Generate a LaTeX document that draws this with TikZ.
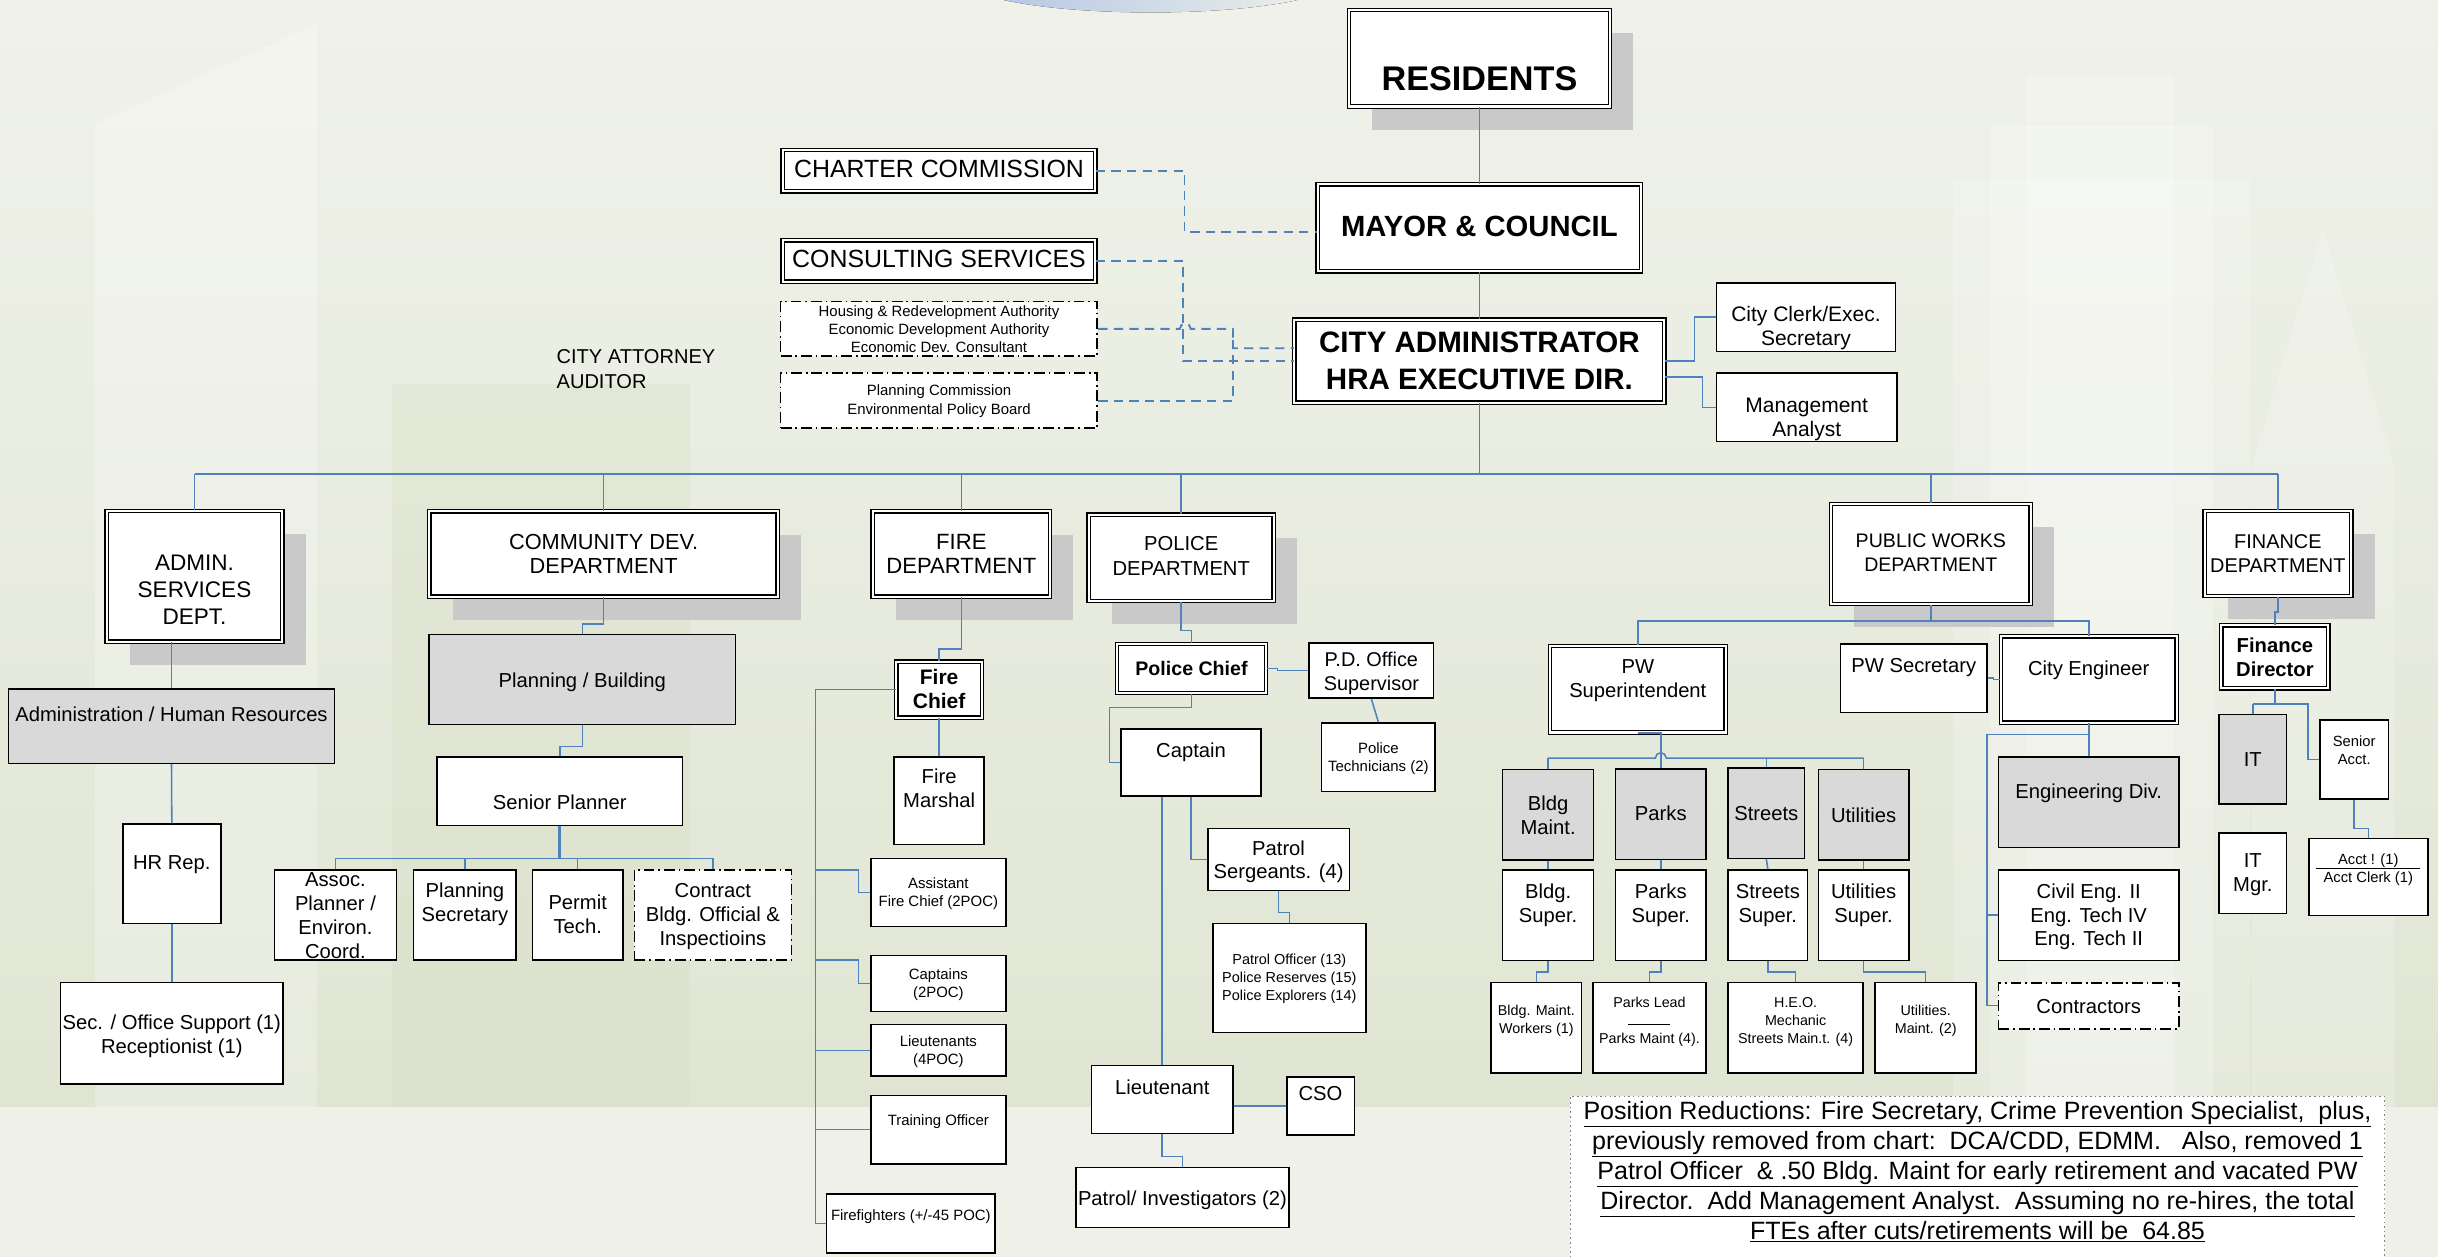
\documentclass[tikz,border=0pt]{standalone}
\usepackage{fontspec}
\setmainfont{Liberation Sans}
\usetikzlibrary{shadows}
\definecolor{bgtop}{RGB}{240,242,234}
\definecolor{bgmid}{RGB}{224,229,211}
\definecolor{bglow}{RGB}{239,241,232}
\definecolor{bgdark}{RGB}{214,222,196}
\definecolor{shadowgray}{RGB}{201,201,201}
\definecolor{boxgray}{RGB}{217,217,217}
\definecolor{linkblue}{RGB}{79,129,189}
\newcommand{\fs}[2]{\fontsize{#1}{#2}\selectfont}
\newcommand{\tx}[2]{\raisebox{\dimexpr-#1pt-0.37em\relax}[0pt][0pt]{\makebox[0pt]{\begin{tabular}{@{}c@{}}#2\end{tabular}}}}
\tikzset{
  sz/.style 2 args={minimum width=#1pt, minimum height=#2pt},
  box/.style={draw, fill=white, line width=1pt, inner sep=0pt, font=\fs{13}{15.4}},
  grey/.style={box, fill=boxgray},
  dbl/.style={box, double, double distance=1.3pt, line width=0.85pt},
  dept/.style={dbl, drop shadow={shadow xshift=15pt, shadow yshift=-15pt, fill=shadowgray, opacity=1}},
  dashdot/.style={box, line width=1.1pt, dash pattern=on 7pt off 2.5pt on 1pt off 2.5pt},
  small/.style={font=\fs{9.6}{11.3}},
  link/.style={draw=linkblue, line width=1pt},
  dlink/.style={draw=linkblue, line width=1.2pt, dash pattern=on 6pt off 4pt}
}
\begin{document}
\begin{tikzpicture}[x=1pt, y=-1pt]
\useasboundingbox (0,0) rectangle (1568,808.4);
\clip (0,0) rectangle (1568,808.4);
\fill [top color=bgtop, bottom color=bgmid] (0,0) rectangle (1568,712);
\fill [bglow] (0,712) rectangle (1568,808.4);
\fill [white, opacity=.25] (61,80) -- (204,15) -- (204,712) -- (61,712) -- cycle;
\fill [bgdark, opacity=.35] (252,247) rectangle (444,712);
\fill [white, opacity=.2] (1303,48) rectangle (1398,712);
\fill [white, opacity=.2] (1280,81) rectangle (1423,712);
\fill [white, opacity=.2] (1256,115) rectangle (1447,712);
\fill [white, opacity=.2] (1494,148) -- (1540,300) -- (1540,712) -- (1448,712) -- (1448,300) -- cycle;
\fill [left color={rgb,255:red,176;green,196;blue,228}, right color=bgtop] (740,-12) ellipse [x radius=118, y radius=20];

\node (res) at (951.5,37.5) [dept, sz={168}{62}, font=\bfseries\fs{22}{26}] {\tx{12.5}{RESIDENTS}};
\node (mayor) at (951.5,146.5) [dbl, sz={208}{56}, font=\bfseries\fs{18.8}{22}] {\tx{-1.5}{MAYOR \& COUNCIL}};
\node (cadm) at (951.5,232.3) [dbl, sz={238}{53.5}, font=\bfseries\fs{19}{23.8}] {\tx{-1.4}{CITY ADMINISTRATOR\\HRA EXECUTIVE DIR.}};
\node (charter) at (603.9,109.7) [dbl, sz={201}{26.5}, font=\fs{16}{18}] {\tx{-0.9}{CHARTER COMMISSION}};
\node (consult) at (603.9,167.9) [dbl, sz={201}{26.5}, font=\fs{16}{18}] {\tx{-1.2}{CONSULTING SERVICES}};
\node (hra) at (603.9,211.5) [dashdot, sz={203.7}{35}, font=\fs{9.6}{11.6}] {\tx{0}{Housing \& Redevelopment Authority\\Economic Development Authority\\Economic Dev. Consultant}};
\node (plancom) at (603.9,257.7) [dashdot, sz={203.7}{35.4}, font=\fs{9.6}{11.8}] {\tx{-0.6}{Planning Commission\\Environmental Policy Board}};
\node (attny) at (357.8,237.4) [anchor=west, align=left, inner sep=0pt, font=\fs{12.9}{15.5}] {CITY ATTORNEY\\AUDITOR};
\node (clerk) at (1161.5,204) [box, sz={115}{44}, font=\fs{13.5}{15.5}] {\tx{6}{City Clerk/Exec.\\Secretary}};
\node (mgmt) at (1162,262) [box, sz={116}{44}, font=\fs{13.5}{15.5}] {\tx{6.5}{Management\\Analyst}};

\node (dadm) at (125.1,370.6) [dept, sz={113}{84}, font=\fs{14.5}{17.2}] {\tx{8.5}{ADMIN.\\SERVICES\\DEPT.}};
\node (dcom) at (388.2,356.3) [dept, sz={224}{55}, font=\fs{14}{15.5}] {\tx{0}{COMMUNITY DEV.\\DEPARTMENT}};
\node (dfire) at (618.3,356.3) [dept, sz={114}{55}, font=\fs{14.2}{15.5}] {\tx{0}{FIRE\\DEPARTMENT}};
\node (dpol) at (759.7,358.8) [dept, sz={119}{55.4}, font=\fs{13}{16}] {\tx{-1.8}{POLICE\\DEPARTMENT}};
\node (dpw) at (1241.8,356.3) [dept, sz={128.5}{64.4}, font=\fs{12.6}{15.5}] {\tx{-1.3}{PUBLIC WORKS\\DEPARTMENT}};
\node (dfin) at (1465,356) [dept, sz={94.3}{54.7}, font=\fs{12.8}{15.3}] {\tx{-0.4}{FINANCE\\DEPARTMENT}};

\node (ahr) at (110.3,467) [grey, sz={209.4}{48}] {\tx{-7.8}{Administration / Human Resources}};
\node (hrrep) at (110.5,562) [box, sz={63}{64}] {\tx{-7.4}{HR Rep.}};
\node (secoff) at (110.5,664.5) [box, sz={143}{65}] {\tx{0.4}{Sec. / Office Support (1)\\Receptionist (1)}};

\node (plbld) at (374.5,437) [grey, sz={197}{58}] {\tx{0}{Planning / Building}};
\node (srpl) at (360,509) [box, sz={158}{44}] {\tx{6.7}{Senior Planner}};
\node (assoc) at (215.75,588.55) [box, sz={78.5}{57.9}] {\tx{0}{Assoc.\\Planner /\\Environ.\\Coord.}};
\node (plsec) at (299,588.55) [box, sz={66}{57.9}] {\tx{-8.2}{Planning\\Secretary}};
\node (permit) at (371.55,588.55) [box, sz={58.1}{57.9}] {\tx{-0.5}{Permit\\Tech.}};
\node (contract) at (458.5,588.55) [dashdot, sz={101}{57.9}] {\tx{-0.5}{Contract\\Bldg. Official \&\\Inspectioins}};

\node (fchief) at (604,443.5) [dbl, sz={55}{36}, font=\bfseries\fs{13.5}{15.3}] {\tx{0}{Fire\\Chief}};
\node (fmarsh) at (604,515) [box, sz={58}{56}] {\tx{-8}{Fire\\Marshal}};
\node (asst) at (603.5,574) [box, small, sz={87}{44}] {\tx{0}{Assistant\\Fire Chief (2POC)}};
\node (capts) at (603.5,632.5) [box, small, sz={87}{36}] {\tx{0}{Captains\\(2POC)}};
\node (lts) at (603.5,675.5) [box, small, sz={87}{33}] {\tx{0}{Lieutenants\\(4POC)}};
\node (train) at (603.5,726.55) [box, small, sz={87}{43.9}] {\tx{-6.2}{Training Officer}};
\node (ffight) at (585.8,786.9) [box, small, sz={108.4}{38.2}] {\tx{-5.5}{Firefighters (+/-45 POC)}};

\node (pchief) at (766.3,429.95) [dbl, sz={96}{31.7}, font=\bfseries\fs{12.6}{15}] {\tx{0}{Police Chief}};
\node (pdoff) at (882,431.35) [box, sz={80}{35.3}, font=\fs{12.8}{15.3}] {\tx{0}{P.D. Office\\Supervisor}};
\node (ptech) at (886.5,487) [box, small, sz={73}{44}] {\tx{0}{Police\\Technicians (2)}};
\node (capt) at (766,490.5) [box, sz={90}{43}] {\tx{-8}{Captain}};
\node (psgt) at (822.3,552.7) [box, sz={91}{39.8}] {\tx{0}{Patrol\\Sergeants. (4)}};
\node (pofc) at (829.2,629) [box, sz={98.4}{70}, font=\fs{9.3}{11.6}] {\tx{-0.7}{Patrol Officer (13)\\Police Reserves (15)\\Police Explorers (14)}};
\node (lieut) at (747.5,707.2) [box, sz={91}{43.6}] {\tx{-7.9}{Lieutenant}};
\node (cso) at (849.3,711.25) [box, sz={43.4}{37.5}] {\tx{-8.2}{CSO}};
\node (pinv) at (760.5,770.15) [box, sz={137}{38.7}] {\tx{0}{Patrol/ Investigators (2)}};

\node (pwsup) at (1053.35,443.3) [dbl, sz={113}{55.6}] {\tx{-7.5}{PW\\Superintendent}};
\node (pwsec) at (1230.85,436.1) [box, sz={94.3}{44}] {\tx{-8.2}{PW Secretary}};
\node (ceng) at (1343.35,437.05) [dbl, sz={113}{55.5}] {\tx{-7.6}{City Engineer}};
\node (bmaint) at (995.65,524.1) [grey, sz={58.5}{58.2}] {\tx{0}{Bldg\\Maint.}};
\node (parks) at (1068.15,523.6) [grey, sz={58.1}{58.2}] {\tx{-0.7}{Parks}};
\node (streets) at (1136,523) [grey, sz={49.2}{58}] {\tx{0}{Streets}};
\node (utils) at (1198.55,524) [grey, sz={58.1}{58}] {\tx{0}{Utilities}};
\node (bsup) at (995.65,588.6) [box, sz={58.5}{58}] {\tx{-8.1}{Bldg.\\Super.}};
\node (psup) at (1068.15,588.6) [box, sz={58.1}{58}] {\tx{-8.1}{Parks\\Super.}};
\node (ssup) at (1137,588.6) [box, sz={51.2}{58}] {\tx{-8.1}{Streets\\Super.}};
\node (usup) at (1198.55,588.6) [box, sz={58.1}{58}] {\tx{-8.1}{Utilities\\Super.}};
\node (bwork) at (988.1,661) [box, sz={58.2}{58}, font=\fs{9.2}{11.6}] {\tx{-5.5}{Bldg. Maint.\\Workers (1)}};
\node (plead) at (1060.85,661) [box, sz={72.7}{58}, font=\fs{9.2}{11.6}] {\tx{-5.2}{Parks Lead\\\rule{27pt}{0.5pt}\\Parks Maint (4).}};
\node (heo) at (1154.85,661) [box, sz={86.9}{58}, font=\fs{9.2}{11.6}] {\tx{-5.2}{H.E.O.\\Mechanic\\Streets Main.t. (4)}};
\node (umaint) at (1238.5,661) [box, sz={65}{58}, font=\fs{9.2}{11.6}] {\tx{-5.5}{Utilities.\\Maint. (2)}};
\node (engdiv) at (1343.35,516) [grey, sz={116.1}{58}] {\tx{-7.4}{Engineering Div.}};
\node (civil) at (1343.35,588.6) [box, sz={116.1}{58}] {\tx{-0.5}{Civil Eng. II\\Eng. Tech IV\\Eng. Tech II}};
\node (contr) at (1343.35,646.8) [dashdot, sz={116.1}{29.6}] {\tx{0}{Contractors}};

\node (fdir) at (1463.1,422.45) [dbl, sz={68.8}{40.5}, font=\bfseries\fs{13}{15.3}] {\tx{0}{Finance\\Director}};
\node (it) at (1448.9,488.25) [grey, sz={43.4}{57.7}] {\tx{0}{IT}};
\node (sracct) at (1514.1,488.4) [box, sz={43.8}{50.8}, font=\fs{9.5}{11.5}] {\tx{-6}{Senior\\Acct.}};
\node (itmgr) at (1448.9,561.65) [box, sz={43.4}{51.9}, font=\fs{13}{15.8}] {\tx{-1}{IT\\Mgr.}};
\node (acct) at (1523.15,564.05) [box, sz={76.5}{49.5}, font=\fs{9.5}{11.5}] {\tx{-6}{Acct ! (1)\\[-8.3pt]\rule{67pt}{0.8pt}\\[-3pt]Acct Clerk (1)}};

\node (note) at (1271.8,760) [box, draw=gray, dotted, line width=0.8pt, sz={523.6}{110}, font=\fs{16.1}{19.3}] {\tx{-7.2}{\underline{Position Reductions: Fire Secretary, Crime Prevention Specialist,\ \ plus,}\\\underline{previously removed from chart:\ \ DCA/CDD, EDMM.\ \ \ Also, removed 1}\\\underline{Patrol Officer\ \ \& .50 Bldg. Maint for early retirement and vacated PW}\\\underline{Director.\ \ Add Management Analyst.\ \ Assuming no re-hires, the total}\\\underline{FTEs after cuts/retirements will be\ \ 64.85}}};

\draw [link] (res.south) -- (mayor.north);
\draw [link] (mayor.south) -- (cadm.north);
\coordinate (bus) at (951.5,305);
\draw [link] (cadm.south) -- (bus);
\draw [link] (bus -| dadm.north) -- (bus -| dfin.north);
\foreach \d in {dadm,dcom,dfire,dpol,dpw,dfin} \draw [link] (bus -| \d.north) -- (\d.north);

\draw [dlink] (charter.east) -- ++(57,0) |- ([yshift=-2.5pt]mayor.west);
\draw [dlink] (consult.east) -- ++(56,0) |- (cadm.west);
\coordinate (hj) at (793,211.5);
\draw [dlink] (hra.east) -- ++(52.5,0) arc [start angle=180, end angle=0, radius=3.5pt] -- (hj) |- ([yshift=8.3pt]cadm.west);
\draw [dlink] (plancom.east) -| (hj);
\draw [link] (cadm.east) -- ++(19,0) |- (clerk.west);
\draw [link] ([yshift=-10pt]cadm.east) -- ++(24,0) |- (mgmt.west);

\draw [link] (ahr.north |- dadm.south) -- (ahr.north);
\draw [link] (ahr.south) -- (hrrep.north);
\draw [link] (hrrep.south) -- (secoff.north);

\draw [link] (dcom.south) -- ++(0,17) -| (plbld.north);
\draw [link] (plbld.south) -- ++(0,13.5) -| (srpl.north);
\coordinate (cbus) at (360,552);
\draw [link, line width=1.7pt] (srpl.south) -- (cbus);
\draw [link] (cbus -| assoc.north) -- (cbus -| contract.north);
\foreach \d in {assoc,plsec,permit,contract} \draw [link] (cbus -| \d.north) -- (\d.north);

\draw [link] (dfire.south) -- ++(0,33) -| (fchief.north);
\draw [link] (fchief.south) -- (fmarsh.north);
\coordinate (fsp) at (524.4,443.5);
\draw [link] (fchief.west) -- (fsp) |- (ffight.west);
\path (fsp |- asst.north) ++(0,8) coordinate (fa);
\path (fsp |- capts.north) ++(0,3.5) coordinate (fc);
\draw [link] (fa) -| ([xshift=-7.4pt]asst.west) -- (asst.west);
\draw [link] (fc) -| ([xshift=-7.4pt]capts.west) -- (capts.west);
\draw [link] (fsp |- lts.west) -- (lts.west);
\draw [link] (fsp |- train.west) -- (train.west);

\draw [link] (dpol.south) -- ++(0,18.5) -| (pchief.north);
\draw [link] (pchief.east) -- ++(7,0) |- (pdoff.west);
\draw [link] (pdoff.south) -- (ptech.north);
\draw [link] (pchief.south) -- ++(0,8.8) -| ([xshift=-7pt]capt.west) -- (capt.west);
\draw [link] (capt.south) |- (psgt.west);
\draw [link] (psgt.south) -- ++(0,13.8) -| (pofc.north);
\draw [link] (lieut.north |- capt.south) -- (lieut.north);
\draw [link] (lieut.east |- cso.west) -- (cso.west);
\draw [link] (lieut.south) -- ++(0,14.3) -| (pinv.north);

\coordinate (pwbus) at (1241.8,399.4);
\draw [link] (dpw.south) -- (pwbus);
\draw [link] (pwsup.north) -- (pwbus -| pwsup.north) -- (pwbus -| ceng.north) -- (ceng.north);
\draw [link] (pwsec.east) -- ++(3.5,0) |- (ceng.west);
\coordinate (sbus) at (1068.15,487.6);
\draw [link] (pwsup.south) -- (pwsup.south -| parks.north) -- (parks.north);
\draw [link] (sbus -| bmaint.north) -- ([xshift=-3.5pt]sbus) arc [start angle=180, end angle=0, radius=3.5pt] -- (sbus -| utils.north);
\foreach \d in {bmaint,streets,utils} \draw [link] (sbus -| \d.north) -- (\d.north);
\foreach \a/\b in {bmaint/bsup,parks/psup,streets/ssup,utils/usup} \draw [link] (\a.south) -- (\b.north);
\foreach \a/\b in {bsup/bwork,psup/plead,ssup/heo,usup/umaint} \draw [link] (\a.south) -- ++(0,7.1) -| (\b.north);
\draw [link] (ceng.south) -- (engdiv.north);
\draw [link] (ceng.south) -- ++(0,7.1) -| ([xshift=-7pt]contr.west) -- (contr.west);
\draw [link] ([xshift=-7pt]civil.west) -- (civil.west);

\draw [link] (dfin.south) -- ++(0,10) -| (fdir.north);
\draw [link] (fdir.south) -- ++(0,9.6) coordinate (fb);
\coordinate (sa) at ([xshift=-7.3pt]sracct.west);
\draw [link] (fb -| it.north) -- (it.north);
\draw [link] (fb -| it.north) -- (fb -| sa) |- (sracct.west);
\draw [link] (sracct.south) -- ++(0,18.6) -| (acct.north);
\end{tikzpicture}
\end{document}
